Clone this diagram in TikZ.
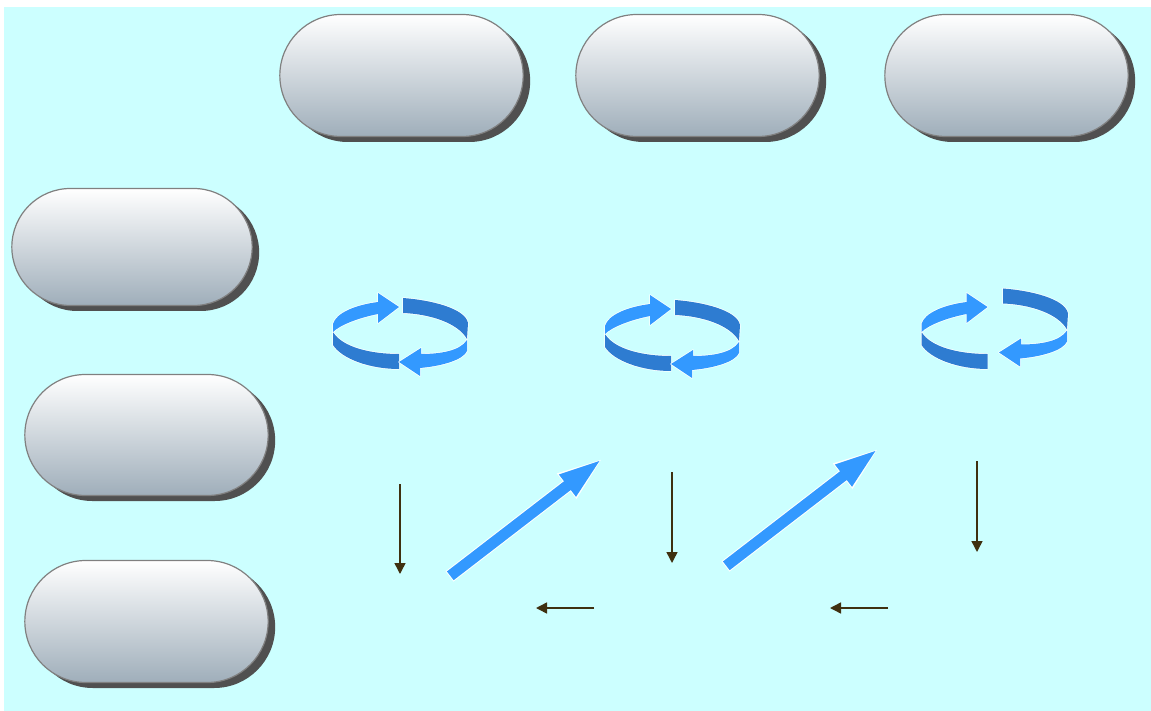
\documentclass[tikz,border=0pt]{standalone}
\usepackage{tikz}
\usetikzlibrary{arrows.meta,shadows,shapes.misc}
\definecolor{panelbg}{HTML}{CCFFFF}
\definecolor{pillbot}{HTML}{9FAEBA}
\definecolor{pilledge}{HTML}{808080}
\definecolor{pillshadow}{HTML}{505050}
\definecolor{cyclelight}{HTML}{3399FF}
\definecolor{cycledark}{HTML}{2E7CD1}
\definecolor{thinbrown}{HTML}{3F3010}
\tikzset{
  pill/.style={rounded rectangle, draw=pilledge, line width=1.2pt, top color=white, bottom color=pillbot,
    drop shadow={shadow xshift=7pt, shadow yshift=-5.5pt, fill=pillshadow, opacity=1}},
  cyclepart/.style={preaction={draw=white, line width=1.4pt, line join=round}},
  thinarrow/.style={thinbrown, line width=1.5pt, -{Triangle[length=11pt,width=11pt]}},
  bigarrow/.style={cyclelight, line width=11pt, shorten >=-3pt, -{Triangle[length=45pt,width=24pt]},
    preaction={draw=white, line width=13pt, shorten <=-1pt, shorten >=-4pt, -{Triangle[length=47pt,width=28pt]}}}
}
\begin{document}
\begin{tikzpicture}[x=1pt,y=-1pt]
\useasboundingbox (0,0) rectangle (1151,711);
\fill[panelbg] (4,7) rectangle (1151,711);

\foreach \x/\y/\w/\h/\z in {401.5/75.5/250/122/top1,697.5/75.5/250/122/top2,1006.5/75.5/250/122/top3,132/247/247/117/left1,146.5/435/250/121/left2,146.5/621.5/250/122/left3} \node[pill, minimum width=\w pt, minimum height=\h pt] (\z) at (\x,\y) {};

\foreach \lx/\ly/\rx/\ry in {400/333/400/333,672/335/672/335,988.5/333/1000/323.5} {
\begin{scope}[shift={(\lx,\ly)}]
\fill[cyclepart, cycledark] (-67,-1) -- (-67,12) .. controls (-58,26) and (-30,36) .. (-1,36) -- (-1,21) .. controls (-30,21) and (-58,14) .. (-67,-1) -- cycle;
\fill[cyclepart, cyclelight] (-67,-1) -- (-67,-9) .. controls (-64,-20) and (-45,-28) .. (-22,-31) -- (-22,-40) -- (-1,-26) -- (-22,-10) -- (-22,-19) .. controls (-42,-15) and (-60,-8) .. (-67,-1) -- cycle;
\end{scope}
\begin{scope}[shift={(\rx,\ry)}]
\fill[cyclepart, cycledark] (3,-35) .. controls (30,-33) and (65,-25) .. (68,-10) -- (67,6) .. controls (58,-10) and (30,-19) .. (3,-20) -- cycle;
\fill[cyclepart, cyclelight] (67,7) -- (67,18) .. controls (63,27) and (42,33) .. (20,35) -- (20,43) -- (-1,29) -- (21,15) -- (21,21) .. controls (40,21) and (60,18) .. (67,7) -- cycle;
\end{scope}
}

\foreach \x/\y/\u/\v/\z in {400/484/400/574/a,672/472/672/563/b,977/461/977/552/c,594/608/536/608/d,888/608/830/608/e} {
\coordinate (\z from) at (\x,\y);
\coordinate (\z to) at (\u,\v);
\draw[thinarrow] (\z from)--(\z to);
}

\foreach \x/\y/\z in {0/0/f,276/-10/g} {
\coordinate (\z from) at (450.3+\x,575.8+\y);
\coordinate (\z to) at (600.7+\x,460+\y);
\draw[bigarrow] (\z from)--(\z to);
}
\end{tikzpicture}
\end{document}
